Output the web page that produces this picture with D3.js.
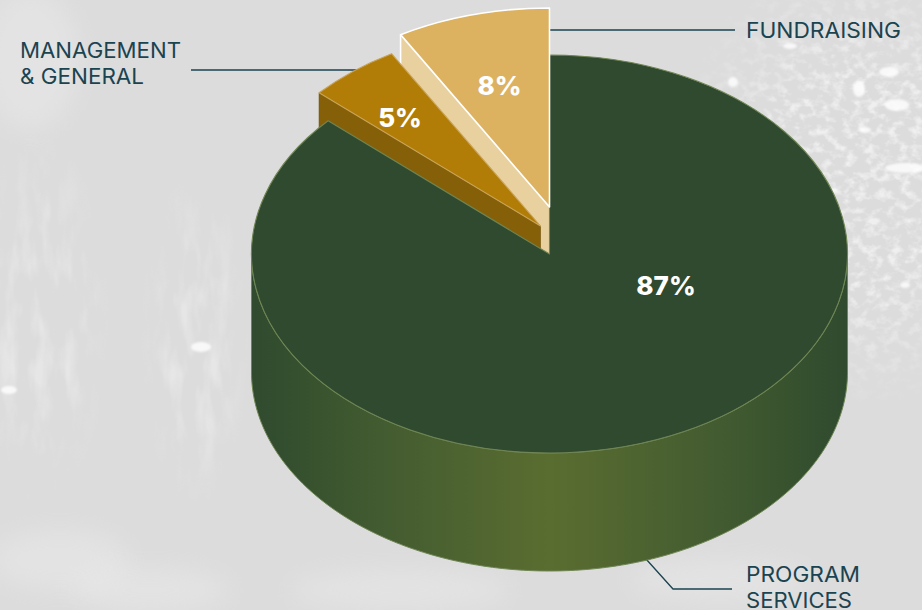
<!DOCTYPE html>
<html><head><meta charset="utf-8">
<script src="https://cdnjs.cloudflare.com/ajax/libs/d3/7.8.5/d3.min.js"></script>
<style>html,body{margin:0;padding:0;background:#dcdcdc;overflow:hidden}svg{display:block}</style>
</head><body>
<svg id="c" width="922" height="610" xmlns="http://www.w3.org/2000/svg"></svg>
<script>
// ---- data ----
const categories = ["PROGRAM SERVICES", "MANAGEMENT & GENERAL", "FUNDRAISING"];
const shares     = [86.67, 5, 8.33];
const topColors  = ["#2f4a2f", "#b17d07", "#dcb261"];
const wallColors = ["#2f4a2f", "#856008", "#e9d19f"];
const edgeColors = ["#6f8553", "#c9a45a", "#ffffff"];

const W = 922, H = 610;
const cx = 549.5, cy = 254, rx = 298, ry = 199, depth = 118;
const explode = [[0,0],[-9,-28],[0,-47]];   // lifted slices: offset of each apex

const svg = d3.select("#c");
const defs = svg.append("defs");

// ---- background ----
const blur = defs.append("filter").attr("id","soft").attr("x","-50%").attr("y","-50%").attr("width","200%").attr("height","200%");
blur.append("feGaussianBlur").attr("stdDeviation",1.1);
const blurBig = defs.append("filter").attr("id","softBig").attr("x","-50%").attr("y","-50%").attr("width","200%").attr("height","200%");
blurBig.append("feGaussianBlur").attr("stdDeviation",12);
const tex = defs.append("filter").attr("id","tex").attr("x",0).attr("y",0).attr("width","100%").attr("height","100%");
tex.append("feTurbulence").attr("type","fractalNoise").attr("baseFrequency","0.09 0.11").attr("numOctaves",3).attr("seed",7);
tex.append("feColorMatrix").attr("values","0 0 0 0 1  0 0 0 0 1  0 0 0 0 1  3.2 0 0 0 -1.45");
const texV = defs.append("filter").attr("id","texV").attr("x",0).attr("y",0).attr("width","100%").attr("height","100%");
texV.append("feTurbulence").attr("type","fractalNoise").attr("baseFrequency","0.06 0.018").attr("numOctaves",3).attr("seed",3);
texV.append("feColorMatrix").attr("values","0 0 0 0 1  0 0 0 0 1  0 0 0 0 1  3 0 0 0 -1.35");
const fade = defs.append("radialGradient").attr("id","fade").attr("cx",.5).attr("cy",.5).attr("r",.5);
fade.append("stop").attr("offset",.45).attr("stop-color","#fff");
fade.append("stop").attr("offset",1).attr("stop-color","#000");
defs.append("mask").attr("id","texR").append("ellipse").attr("cx",860).attr("cy",180).attr("rx",190).attr("ry",230).attr("fill","url(#fade)");
const mL = defs.append("mask").attr("id","texL");
mL.append("ellipse").attr("cx",195).attr("cy",340).attr("rx",55).attr("ry",170).attr("fill","url(#fade)");
mL.append("ellipse").attr("cx",40).attr("cy",320).attr("rx",70).attr("ry",190).attr("fill","url(#fade)");

const bg = svg.append("g").attr("class","background");
bg.append("rect").attr("width",W).attr("height",H).attr("fill","#dcdcdc");
bg.append("rect").attr("width",W).attr("height",H).attr("fill","#fff").attr("filter","url(#tex)").attr("mask","url(#texR)").attr("opacity",.55);
bg.append("rect").attr("width",W).attr("height",H).attr("fill","#fff").attr("filter","url(#texV)").attr("mask","url(#texL)").attr("opacity",.3);
const glows = [[60,560,70,30],[150,590,80,22],[400,590,110,20],[720,580,90,20],[30,60,50,70]];
bg.selectAll("ellipse.glow").data(glows).join("ellipse").attr("class","glow")
  .attr("cx",d=>d[0]).attr("cy",d=>d[1]).attr("rx",d=>d[2]).attr("ry",d=>d[3])
  .attr("fill","#fff").attr("opacity",.2).attr("filter","url(#softBig)");
const flecks = [[889,72,10,5],[859,89,6,8],[897,105,12,6],[733,82,5,5],[905,168,20,5],[790,46,7,3],[9,390,8,4],[201,347,10,5],[834,190,4,2],[865,130,6,3],[905,285,5,3],[837,212,4,2]];
bg.selectAll("ellipse.fleck").data(flecks).join("ellipse").attr("class","fleck")
  .attr("cx",d=>d[0]).attr("cy",d=>d[1]).attr("rx",d=>d[2]).attr("ry",d=>d[3])
  .attr("fill","#fff").attr("opacity",.8).attr("filter","url(#soft)");

// ---- leader lines (below the pie) ----
const navy = "#1b4350";
const leaders = [
  [[646,559],[673,589],[732,589]],
  [[191,70],[362,70]],
  [[549,30],[735,30]]
];
svg.append("g").selectAll("path").data(leaders).join("path")
  .attr("d", d3.line()).attr("fill","none").attr("stroke",navy).attr("stroke-width",1.3);

// ---- pie layout: counter-clockwise from 12 o'clock, fundraising first ----
const pie = d3.pie().value(d=>d.v).sort((a,b)=>b.i-a.i).startAngle(2*Math.PI).endAngle(0);
const rows = categories.map((c,i)=>({c,v:shares[i],i}));
const arcs = pie(rows);
const byI = i => arcs.find(a=>a.data.i===i);
const pt = a=>[rx*Math.sin(a), -ry*Math.cos(a)];

const arcGen = d3.arc().innerRadius(0).outerRadius(rx);
const shift = i => `translate(${cx+explode[i][0]},${cy+explode[i][1]})`;

function topSlice(g,i){
  const a = byI(i);
  g.append("path")
   .attr("d", arcGen({startAngle:a.endAngle, endAngle:a.startAngle}))
   .attr("transform", shift(i)+` scale(1,${ry/rx})`)
   .attr("fill", topColors[i]).attr("stroke", edgeColors[i])
   .attr("stroke-width", i===2?1.6:1.1).attr("vector-effect","non-scaling-stroke")
   .attr("stroke-linejoin","round");
}
function cutWall(g,i){                  // the flat face along the slice's left edge
  const a = byI(i), p = pt(a.endAngle);
  const q = [[0,0],p,[p[0],p[1]+depth],[0,depth]];
  g.append("path").attr("d", d3.line()(q)+"Z").attr("transform",shift(i))
   .attr("fill", wallColors[i]).attr("stroke", i===2?"#f2e2bd":"#6e5007").attr("stroke-width",.6);
}
const chart = svg.append("g");
cutWall(chart,2);
{ // fundraising's vertical white edge at its outer left corner
  const p = pt(byI(2).endAngle);
  chart.append("path").attr("d",d3.line()([p,[p[0],p[1]+depth]])).attr("transform",shift(2))
       .attr("stroke","#fff").attr("stroke-width",1.6);
}
cutWall(chart,1);
topSlice(chart,1);

// outer wall of the main slice: front half of the ellipse
const grad = defs.append("linearGradient").attr("id","wall").attr("gradientUnits","userSpaceOnUse")
  .attr("x1",cx-rx).attr("x2",cx+rx).attr("y1",0).attr("y2",0);
[[0,"#2f4a2f"],[.06,"#344f2e"],[.2,"#415a30"],[.5,"#5a6d30"],[.8,"#415a30"],[.94,"#344f2e"],[1,"#2f4a2f"]]
  .forEach(s=>grad.append("stop").attr("offset",s[0]).attr("stop-color",s[1]));
const angles = d3.range(0,181).map(d=>Math.PI/2 + d*Math.PI/180);
const wallArea = d3.area().x(a=>cx+pt(a)[0]).y0(a=>cy+pt(a)[1]).y1(a=>cy+pt(a)[1]+depth);
chart.append("path").datum(angles).attr("d",wallArea).attr("fill","url(#wall)")
     .attr("stroke",edgeColors[0]).attr("stroke-width",1);
topSlice(chart,0);
topSlice(chart,2);

// ---- text ----
const font = "Inter, 'Open Sans', sans-serif";
const pctPos = [[666,295],[400,127],[499.5,95]];
svg.append("g").selectAll("text").data(rows).join("text")
  .attr("x",d=>pctPos[d.i][0]).attr("y",d=>pctPos[d.i][1])
  .attr("text-anchor","middle").attr("font-family",font).attr("font-weight",800)
  .attr("font-size",26).attr("fill","#fff")
  .text(d=>Math.round(d.v)+"%");

const labelLines = [["PROGRAM","SERVICES"],["MANAGEMENT","& GENERAL"],["FUNDRAISING"]];
const labelPos = [[746,582],[20,58],[746,38]];
const labelWidths = [[114,106],[161,124],[155]];
const lab = svg.append("g").attr("font-family",font).attr("font-size",21).attr("fill",navy);
labelLines.forEach((lines,i)=>lines.forEach((t,j)=>{
  lab.append("text").attr("x",labelPos[i][0]).attr("y",labelPos[i][1]+j*25.5)
     .attr("textLength",labelWidths[i][j]).attr("lengthAdjust","spacingAndGlyphs").text(t);
}));
</script>
</body></html>
